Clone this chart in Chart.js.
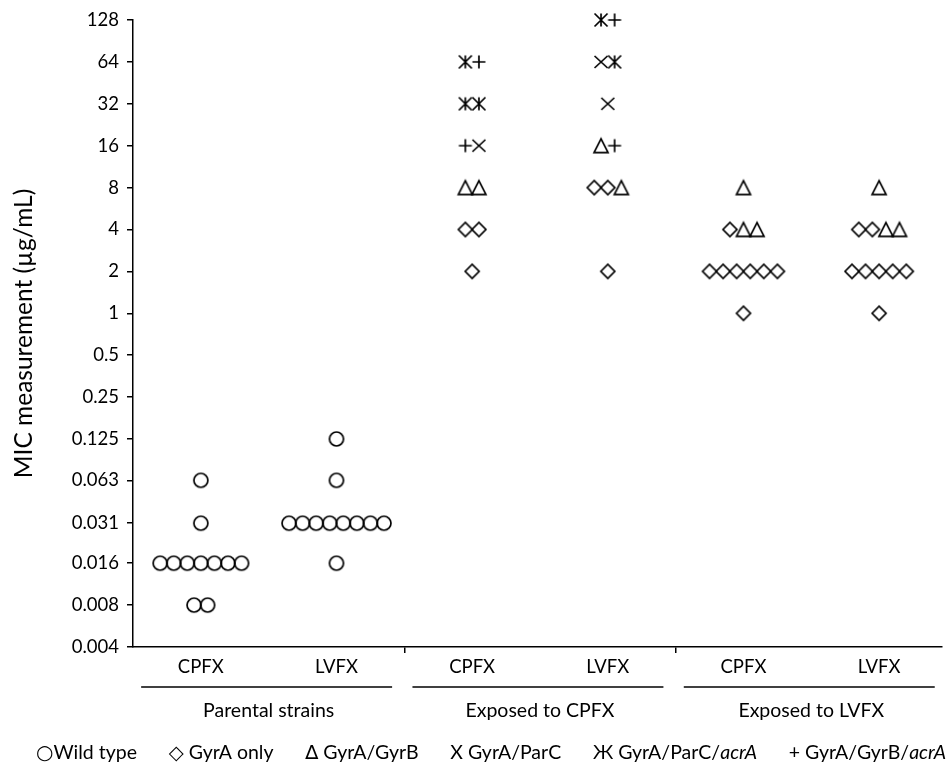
<!DOCTYPE html>
<html>
<head>
<meta charset="utf-8">
<script src="https://cdn.jsdelivr.net/npm/chart.js@4.4.0/dist/chart.umd.min.js"></script>
<style>
  body { margin: 0; background: #fff; }
</style>
</head>
<body>
<canvas id="chart" width="950" height="763"></canvas>
<script>
// Tick values of the MIC axis (µg/mL)
const yTicks = [0.004, 0.008, 0.016, 0.031, 0.063, 0.125, 0.25, 0.5, 1, 2, 4, 8, 16, 32, 64, 128];

const categories = ["CPFX", "LVFX", "CPFX", "LVFX", "CPFX", "LVFX"];
const groups = ["Parental strains", "Exposed to CPFX", "Exposed to LVFX"];

// marker codes: o wild type, d GyrA only, t GyrA/GyrB, x GyrA/ParC,
// k GyrA/ParC/acrA, p GyrA/GyrB/acrA
const typeCodes = ["o", "d", "t", "x", "k", "p"];
const typeNames = ["Wild type", "GyrA only", "GyrA/GyrB", "GyrA/ParC", "GyrA/ParC/acrA", "GyrA/GyrB/acrA"];
const legendGlyphs = ["\u25CB", "\u25C7", "\u2206", "X", "\u0416", "+"];

// each row: MIC value, then the strains in that row from left to right
const parentalCPFX = [[0.063, "o"], [0.031, "o"], [0.016, "ooooooo"], [0.008, "oo"]];
const parentalLVFX = [[0.125, "o"], [0.063, "o"], [0.031, "oooooooo"], [0.016, "o"]];
const expCpfxCPFX = [[64, "kp"], [32, "kk"], [16, "px"], [8, "tt"], [4, "dd"], [2, "d"]];
const expCpfxLVFX = [[128, "kp"], [64, "xk"], [32, "x"], [16, "tp"], [8, "ddt"], [2, "d"]];
const expLvfxCPFX = [[8, "t"], [4, "dtt"], [2, "dddddd"], [1, "d"]];
const expLvfxLVFX = [[8, "t"], [4, "ddtt"], [2, "ddddd"], [1, "d"]];

const columns = [parentalCPFX, parentalLVFX, expCpfxCPFX, expCpfxLVFX, expLvfxCPFX, expLvfxLVFX];

const FONT = "Lato, 'DejaVu Sans', sans-serif";
const dotStep = 0.1; // width of one dot in category units

// marker images
function makeMarker(code) {
  const c = document.createElement("canvas");
  c.width = 20;
  c.height = 20;
  const g = c.getContext("2d");
  g.strokeStyle = "#000";
  g.lineWidth = 1.7;
  g.beginPath();
  if (code === "o") {
    g.arc(10, 10, 7, 0, Math.PI * 2);
  } else if (code === "d") {
    g.moveTo(3, 10); g.lineTo(10, 3); g.lineTo(17, 10); g.lineTo(10, 17); g.closePath();
  } else if (code === "t") {
    g.moveTo(3, 16.8); g.lineTo(17, 16.8); g.lineTo(10, 3.2); g.closePath();
  } else if (code === "x") {
    g.moveTo(3.5, 4); g.lineTo(16.5, 16); g.moveTo(16.5, 4); g.lineTo(3.5, 16);
  } else if (code === "k") {
    g.moveTo(3.5, 3.5); g.lineTo(16.5, 16.5); g.moveTo(16.5, 3.5); g.lineTo(3.5, 16.5);
    g.moveTo(10, 3.5); g.lineTo(10, 16.5);
  } else if (code === "p") {
    g.moveTo(3.5, 10); g.lineTo(16.5, 10); g.moveTo(10, 3.5); g.lineTo(10, 16.5);
  }
  g.stroke();
  return c;
}

// build one scatter dataset per strain type
const datasets = typeCodes.map((code, ti) => {
  const pts = [];
  columns.forEach((rows, ci) => {
    rows.forEach(([mic, row]) => {
      const n = row.length;
      for (let i = 0; i < n; i++) {
        if (row[i] === code) {
          pts.push({ x: ci + 1 + (i - (n - 1) / 2) * dotStep, y: mic });
        }
      }
    });
  });
  return {
    label: typeNames[ti],
    data: pts,
    pointStyle: makeMarker(code),
    pointRadius: 8,
    borderWidth: 0,
    clip: false,
  };
});

// group labels, underlines and the legend line under the chart
const extras = {
  id: "extras",
  afterDraw(chart) {
    const ctx = chart.ctx;
    const xs = chart.scales.x;
    ctx.save();
    ctx.strokeStyle = "#000";
    ctx.fillStyle = "#000";
    ctx.lineWidth = 1.5;
    ctx.font = "19.5px " + FONT;
    ctx.textAlign = "center";
    ctx.textBaseline = "alphabetic";
    groups.forEach((g, i) => {
      const x0 = xs.getPixelForValue(2 * i + 0.56);
      const x1 = xs.getPixelForValue(2 * i + 2.41);
      ctx.beginPath();
      ctx.moveTo(x0, 687);
      ctx.lineTo(x1, 687);
      ctx.stroke();
      ctx.fillText(g, xs.getPixelForValue(2 * i + 1.5), 717);
    });

    // legend
    ctx.textAlign = "left";
    const normal = "19.5px " + FONT;
    const italic = "italic 19.5px " + FONT;
    const items = typeNames.map((name, i) => {
      const parts = [];
      const glyphFont = i === 0 ? "20px 'DejaVu Sans'" : normal;
      parts.push([legendGlyphs[i] + (i === 0 ? "" : " "), glyphFont]);
      if (name.endsWith("acrA")) {
        parts.push([name.slice(0, -4), normal]);
        parts.push(["acrA", italic]);
      } else {
        parts.push([name, normal]);
      }
      let w = 0;
      parts.forEach(p => { ctx.font = p[1]; w += ctx.measureText(p[0]).width; });
      return { parts, w };
    });
    const left = 36, right = 946;
    const total = items.reduce((s, it) => s + it.w, 0);
    const gap = (right - left - total) / (items.length - 1);
    let x = left;
    items.forEach(it => {
      it.parts.forEach(p => {
        ctx.font = p[1];
        ctx.fillText(p[0], x, 759);
        x += ctx.measureText(p[0]).width;
      });
      x += gap;
    });
    ctx.restore();
  },
};

const xTickValues = [1, 2, 2.5, 3, 4, 4.5, 5, 6];

new Chart(document.getElementById("chart"), {
  type: "scatter",
  data: { datasets },
  options: {
    responsive: false,
    animation: false,
    devicePixelRatio: 1,
    layout: { padding: { top: 20, right: 0, bottom: 0, left: 0 } },
    plugins: {
      legend: { display: false },
      tooltip: { enabled: false },
    },
    scales: {
      x: {
        type: "linear",
        min: 0.5,
        max: 0.5 + 817 / 137,
        afterBuildTicks: (scale) => {
          scale.ticks = xTickValues.map(v => ({ value: v }));
        },
        afterFit: (scale) => { scale.height = 116; },
        ticks: {
          autoSkip: false,
          maxRotation: 0,
          padding: 3,
          color: "#000",
          font: { family: FONT, size: 18.5 },
          callback: (v) => (Number.isInteger(v) ? categories[v - 1] : ""),
        },
        grid: {
          drawOnChartArea: false,
          drawTicks: true,
          tickLength: 6,
          lineWidth: 1.5,
          color: (c) => (c.tick && !Number.isInteger(c.tick.value) ? "#000" : "rgba(0,0,0,0)"),
        },
        border: { display: true, color: "#000", width: 1.5 },
      },
      y: {
        type: "logarithmic",
        min: 0.004,
        max: 128,
        afterBuildTicks: (scale) => {
          scale.ticks = yTicks.map(v => ({ value: v }));
        },
        afterFit: (scale) => { scale.width = 133; },
        ticks: {
          autoSkip: false,
          padding: 8,
          color: "#000",
          font: { family: FONT, size: 18.5 },
          callback: (v) => String(v),
        },
        grid: {
          drawOnChartArea: false,
          drawTicks: true,
          tickLength: 6,
          lineWidth: 1.5,
          color: "#000",
        },
        border: { display: true, color: "#000", width: 1.5 },
        title: {
          display: true,
          text: "MIC measurement (\u00B5g/mL)",
          color: "#000",
          font: { family: FONT, size: 24.5 },
          padding: { top: 9, bottom: 0 },
        },
      },
    },
  },
  plugins: [extras],
});
</script>
</body>
</html>
